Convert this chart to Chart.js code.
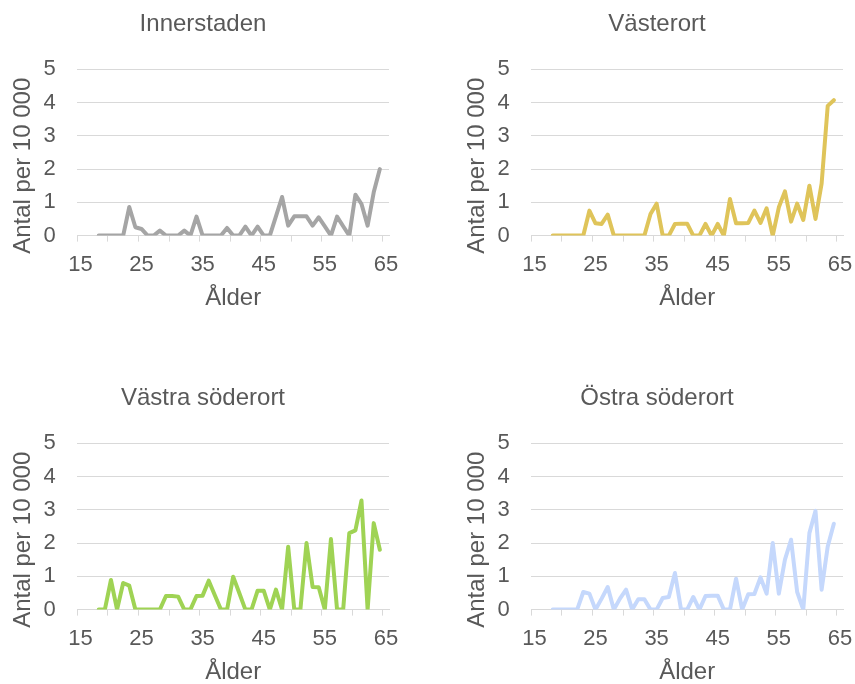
<!DOCTYPE html>
<html>
<head>
<meta charset="utf-8">
<script src="https://cdn.jsdelivr.net/npm/chart.js@4/dist/chart.umd.min.js"></script>
<style>
  html, body { margin: 0; padding: 0; background: #ffffff; }
  #wrap { position: relative; width: 855px; height: 684px; overflow: hidden; }
  .panel { position: absolute; }
</style>
</head>
<body>
<div id="wrap">
  <div class="panel" style="left:0px; top:0px;"><canvas id="c1" width="408" height="316"></canvas></div>
  <div class="panel" style="left:454px; top:0px;"><canvas id="c2" width="408" height="316"></canvas></div>
  <div class="panel" style="left:0px; top:374px;"><canvas id="c3" width="408" height="316"></canvas></div>
  <div class="panel" style="left:454px; top:374px;"><canvas id="c4" width="408" height="316"></canvas></div>
</div>
<script>
// ---- Data ----
const ages = [18,19,20,21,22,23,24,25,26,27,28,29,30,31,32,33,34,35,36,37,38,39,40,41,42,43,44,45,46,47,48,49,50,51,52,53,54,55,56,57,58,59,60,61,62,63,64];

const innerstaden = [0,0,0,0,0,0.86,0.25,0.2,0,0,0.15,0,0,0,0.15,0,0.57,0,0,0,0,0.23,0,0,0.27,0,0.27,0,0,0.58,1.16,0.3,0.58,0.58,0.58,0.3,0.55,0.28,0,0.57,0.28,0,1.23,0.95,0.3,1.3,2.0];

const vasterort = [0,0,0,0,0,0,0.75,0.37,0.35,0.63,0,0,0,0,0,0,0.65,0.96,0,0,0.35,0.36,0.36,0,0,0.35,0,0.35,0,1.1,0.37,0.37,0.38,0.75,0.38,0.82,0,0.85,1.33,0.42,0.96,0.47,1.5,0.5,1.56,3.9,4.07];

const vastraSoderort = [0,0,0.89,0,0.8,0.72,0,0,0,0,0,0.41,0.41,0.39,0,0,0.41,0.42,0.87,0.43,0,0,0.99,0.5,0,0,0.57,0.57,0,0.6,0,1.89,0,0,2.0,0.68,0.67,0,2.12,0,0,2.3,2.38,3.28,0,2.6,1.8];

const ostraSoderort = [0,0,0,0,0,0.53,0.48,0,0.33,0.68,0,0.33,0.6,0,0.31,0.31,0,0,0.35,0.38,1.1,0,0,0.38,0,0.41,0.42,0.42,0,0,0.93,0,0.46,0.47,0.97,0.48,2.0,0.48,1.5,2.1,0.53,0,2.3,2.97,0.6,1.9,2.58];

const panelTitles = ['Innerstaden', 'Västerort', 'Västra söderort', 'Östra söderort'];
const xTickLabels = [15, 25, 35, 45, 55, 65];
const yTicks = [0, 1, 2, 3, 4, 5];
const xAxisTitle = 'Ålder';
const yAxisTitle = 'Antal per 10 000';

// ---- Styling ----
const TEXT = '#595959';
const GRID = '#d9d9d9';
Chart.defaults.font.family = "'Liberation Sans', Arial, sans-serif";
Chart.defaults.color = TEXT;

// category boundaries every 5 years (tick marks) plus label positions
const xMin = 14.5, xMax = 65.5;
const boundaryTicks = [];
for (let b = xMin; b < xMax; b += 5) boundaryTicks.push(b);
const allXTicks = boundaryTicks.concat(xTickLabels).sort((a, b) => a - b);

function makeChart(id, title, values, color) {
  const pts = ages.map((a, i) => ({ x: a, y: values[i] }));
  return new Chart(document.getElementById(id), {
    type: 'line',
    data: {
      datasets: [{
        data: pts,
        borderColor: color,
        backgroundColor: color,
        borderWidth: 4,
        pointRadius: 0,
        tension: 0,
        borderCapStyle: 'round',
        borderJoinStyle: 'round',
        fill: false
      }]
    },
    options: {
      responsive: false,
      animation: false,
      events: [],
      layout: { padding: { left: 0, right: 2, top: 0, bottom: 0 } },
      plugins: {
        legend: { display: false },
        tooltip: { enabled: false },
        title: {
          display: true,
          text: title,
          color: TEXT,
          font: { size: 24, weight: 'normal' },
          padding: { top: 9.9, bottom: 30.6 }
        }
      },
      scales: {
        x: {
          type: 'linear',
          min: xMin,
          max: xMax,
          afterBuildTicks: (scale) => { scale.ticks = allXTicks.map(v => ({ value: v })); },
          ticks: {
            autoSkip: false,
            maxRotation: 0,
            minRotation: 0,
            padding: 9.8,
            color: TEXT,
            font: { size: 22 },
            callback: (v) => xTickLabels.includes(v) ? String(v) : ''
          },
          grid: {
            drawOnChartArea: false,
            drawTicks: true,
            tickLength: 6,
            tickColor: (ctx) => (ctx.tick && Number.isInteger(ctx.tick.value)) ? 'rgba(0,0,0,0)' : GRID
          },
          border: { display: true, color: GRID, width: 1 },
          title: {
            display: true,
            text: xAxisTitle,
            color: TEXT,
            font: { size: 24 },
            padding: { top: -3.4, bottom: 3 }
          }
        },
        y: {
          min: 0,
          max: 5,
          afterBuildTicks: (scale) => { scale.ticks = yTicks.map(v => ({ value: v })); },
          ticks: {
            padding: 21.6,
            color: TEXT,
            font: { size: 22 }
          },
          grid: { color: GRID, lineWidth: 1, drawTicks: false },
          border: { display: false },
          title: {
            display: true,
            text: yAxisTitle + '    ',
            color: TEXT,
            font: { size: 24 },
            padding: { top: 8.6, bottom: -15.5 }
          }
        }
      }
    }
  });
}

makeChart('c1', panelTitles[0], innerstaden, '#a5a5a5');
makeChart('c2', panelTitles[1], vasterort, '#dfc45a');
makeChart('c3', panelTitles[2], vastraSoderort, '#9fd354');
makeChart('c4', panelTitles[3], ostraSoderort, '#c5d8fc');
</script>
</body>
</html>
